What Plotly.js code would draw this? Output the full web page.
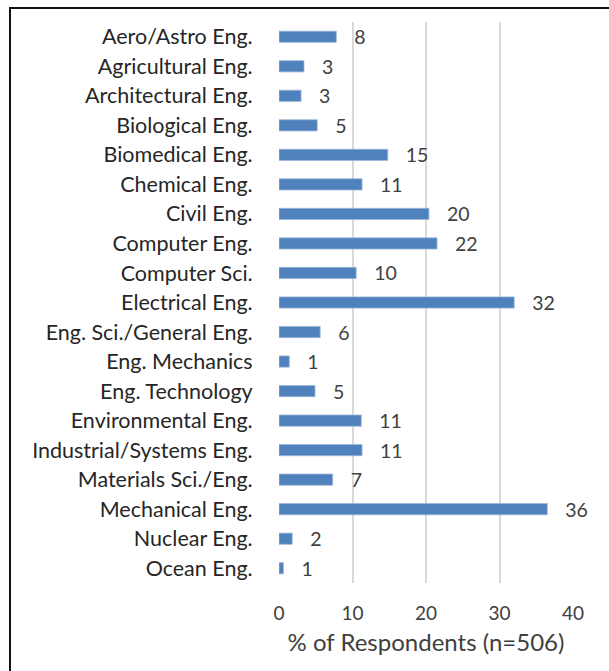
<!DOCTYPE html>
<html><head><meta charset="utf-8">
<script src="https://cdn.plot.ly/plotly-3.0.1.min.js"></script>
<style>
html,body{margin:0;padding:0;background:#fff;}
#frame{position:absolute;left:9px;top:7px;width:620px;height:700px;border-left:2px solid #111;border-top:2px solid #111;pointer-events:none;}
#chart{width:609px;height:671px;}
</style></head>
<body>
<div id="chart"></div>
<div id="frame"></div>
<script>
const categories = ["Aero/Astro Eng.","Agricultural Eng.","Architectural Eng.","Biological Eng.","Biomedical Eng.","Chemical Eng.","Civil Eng.","Computer Eng.","Computer Sci.","Electrical Eng.","Eng. Sci./General Eng.","Eng. Mechanics","Eng. Technology","Environmental Eng.","Industrial/Systems Eng.","Materials Sci./Eng.","Mechanical Eng.","Nuclear Eng.","Ocean Eng."];
const values = [7.8,3.4,3.0,5.2,14.8,11.3,20.4,21.5,10.5,32.0,5.6,1.4,4.9,11.2,11.3,7.3,36.5,1.8,0.6];
const labels = ["8","3","3","5","15","11","20","22","10","32","6","1","5","11","11","7","36","2","1"];
const xTicks = [0,10,20,30,40];

const trace = {
  type:'bar', orientation:'h',
  y: categories, x: values,
  text: labels.map(t => '   ' + t),
  textposition:'outside', cliponaxis:false, constraintext:'none',
  textfont:{family:'Lato, sans-serif', size:19.5, color:'#404040'},
  marker:{color:'#4F81BD', line:{color:'#9DB8DA', width:0.8}},
  hoverinfo:'none'
};
const layout = {
  width:609, height:671,
  margin:{l:279, r:36, t:22, b:88},
  paper_bgcolor:'#fff', plot_bgcolor:'#fff',
  showlegend:false,
  bargap:0.62,
  font:{family:'Lato, sans-serif', color:'#404040'},
  xaxis:{
    range:[0,40], tickvals:xTicks, ticktext:xTicks.map(String),
    showgrid:true, gridcolor:'#D9D9D9', gridwidth:2, zeroline:false,
    showline:false, ticks:'outside', ticklen:13, tickcolor:'rgba(0,0,0,0)',
    tickfont:{size:19, color:'#404040'},
    title:{text:'% of Respondents (n=506)', font:{size:24, color:'#404040'}, standoff:11},
    fixedrange:true
  },
  yaxis:{
    autorange:'reversed', showgrid:false, zeroline:false, showline:false,
    ticks:'outside', ticklen:21, tickcolor:'rgba(0,0,0,0)',
    tickfont:{size:21.5, color:'#262626'}, fixedrange:true
  }
};
Plotly.newPlot('chart',[trace],layout,{displayModeBar:false,staticPlot:true});
</script>
</body></html>
